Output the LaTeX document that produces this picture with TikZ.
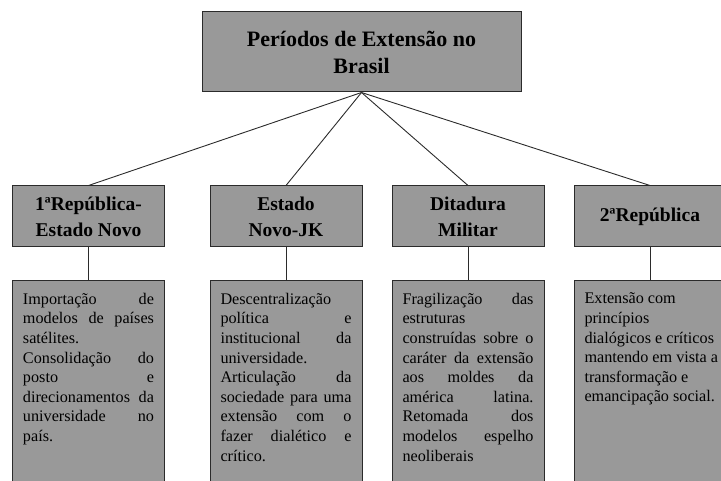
\documentclass[tikz,border=0pt]{standalone}
\usepackage{fontspec}
\setmainfont{Liberation Serif}
\definecolor{boxgray}{HTML}{999999}
\definecolor{linegray}{HTML}{2B2B2B}
\hyphenpenalty=10000
\exhyphenpenalty=10000
\hbadness=10000
\hfuzz=5pt
\newcommand{\boxtext}[1]{\parbox[c][200pt][t]{131pt}{#1}}
\newcommand{\newpar}{\par}
\begin{document}
\begin{tikzpicture}[
	titlebox/.style={rectangle,draw=linegray,fill=boxgray,line width=1pt,
		minimum width=319pt,minimum height=80pt,align=center,
		font=\fontsize{22}{27}\selectfont\bfseries},
	periodbox/.style={rectangle,draw=linegray,fill=boxgray,line width=1pt,
		minimum width=152pt,minimum height=61pt,align=center,
		font=\fontsize{19.5}{26}\selectfont\bfseries},
	textbox/.style={rectangle,draw=linegray,fill=boxgray,line width=1pt,
		inner xsep=10.5pt,inner ysep=12pt,
		font=\fontsize{16.2}{19.6}\selectfont},
	edge from parent/.style={draw=linegray,line width=0.9pt},
	edge from parent path={(\tikzparentnode.south) -- (\tikzchildnode.north)},
	level 1/.style={level distance=164.5pt,sibling distance=182pt},
	level 2/.style={level distance=176.5pt}]
\useasboundingbox (0,0) rectangle (721pt,-481pt);
\clip (0,0) rectangle (721pt,-481pt);
\node[titlebox] (root) at (361.5pt,-52pt) {Períodos de Extensão no\\Brasil}
child {node[periodbox] (rep1) {1ªRepública-\\Estado Novo}
	child {node[textbox] (txt1) {\boxtext{Importação de\linebreak modelos de países\linebreak satélites.\newpar
		Consolidação do\linebreak posto e\linebreak direcionamentos da\linebreak universidade no\linebreak país.}}}
	}
child[xshift=15.5pt] {node[periodbox] (novo) {Estado\\Novo-JK}
	child {node[textbox] (txt2) {\boxtext{Descentralização\linebreak política e\linebreak institucional da\linebreak universidade.\newpar
		Articulação da\linebreak sociedade para uma\linebreak extensão com o\linebreak fazer dialético e\linebreak crítico.}}}
	}
child[xshift=15.5pt] {node[periodbox] (dit) {Ditadura\\Militar}
	child {node[textbox] (txt3) {\boxtext{Fragilização das\linebreak estruturas\linebreak construídas sobre o\linebreak caráter da extensão\linebreak aos moldes da\linebreak américa latina.\linebreak
		Retomada dos\linebreak modelos espelho\linebreak neoliberais}}}
	}
child[xshift=15.5pt] {node[periodbox] (rep2) {2ªRepública}
	child {node[textbox] (txt4) {\boxtext{\raggedright Extensão com\\ princípios\\ dialógicos e críticos\\ \mbox{mantendo em vista a}\\ transformação e\\ emancipação social.}}}
	};
\end{tikzpicture}
\end{document}
